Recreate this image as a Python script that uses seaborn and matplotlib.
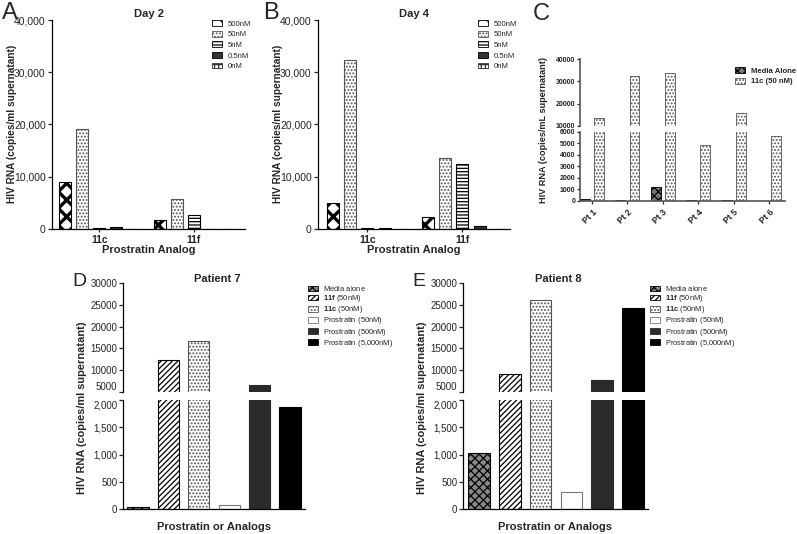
import matplotlib
matplotlib.use("Agg")
import matplotlib.pyplot as plt
import matplotlib.patches as mpatches
from matplotlib.ticker import FuncFormatter
import seaborn as sns
import pandas as pd

# panels A / B: viral RNA by analog and dose
analogs = ["11c", "11f"]
doses = ["500nM", "50nM", "5nM", "0.5nM", "0nM"]
day2_11c = [9000, 19200, 100, 300, 0]
day2_11f = [1800, 5800, 2600, 60, 60]
day4_11c = [5000, 32300, 250, 180, 0]
day4_11f = [2300, 13500, 12400, 500, 80]

# panel C: patients 1-6
patients = ["Pt 1", "Pt 2", "Pt 3", "Pt 4", "Pt 5", "Pt 6"]
c_groups = ["Media Alone", "11c (50 nM)"]
media_alone = [150, 120, 1180, 100, 60, 30]
c11c_50 = [13800, 32600, 33600, 4870, 16000, 5650]

# panels D / E: patients 7 and 8
treatments = ["Media alone", "11f (50nM)", "11c (50nM)",
              "Prostratin (50nM)", "Prostratin (500nM)", "Prostratin (5,000nM)"]
# all mathtext so every legend row has the same height
treat_labels = [r"$\mathregular{Media\ alone}$",
                r"$\mathbf{11f}\mathregular{\ (50nM)}$",
                r"$\mathbf{11c}\mathregular{\ (50nM)}$",
                r"$\mathregular{Prostratin\ (50nM)}$",
                r"$\mathregular{Prostratin\ (500nM)}$",
                r"$\mathregular{Prostratin\ (5{,}000nM)}$"]
patient7 = [45, 12270, 16700, 70, 6700, 1870]
patient8 = [1030, 9060, 26200, 306, 7840, 24270]

dose_style = {
    "500nM": dict(facecolor="white", edgecolor="black", hatch="xx"),
    "50nM": dict(facecolor="white", edgecolor="#555555", hatch="....."),
    "5nM": dict(facecolor="white", edgecolor="black", hatch="-----"),
    "0.5nM": dict(facecolor="#333333", edgecolor="black", hatch=""),
    "0nM": dict(facecolor="white", edgecolor="#333333", hatch="++++"),
}
c_style = {
    "Media Alone": dict(facecolor="#777777", edgecolor="black", hatch="xxxx"),
    "11c (50 nM)": dict(facecolor="white", edgecolor="#555555", hatch="....."),
}
treat_style = {
    "Media alone": dict(facecolor="#888888", edgecolor="black", hatch="xxxx"),
    "11f (50nM)": dict(facecolor="white", edgecolor="black", hatch="//////"),
    "11c (50nM)": dict(facecolor="white", edgecolor="#555555", hatch="....."),
    "Prostratin (50nM)": dict(facecolor="white", edgecolor="#777777", hatch=""),
    "Prostratin (500nM)": dict(facecolor="#2b2b2b", edgecolor="#2b2b2b", hatch=""),
    "Prostratin (5,000nM)": dict(facecolor="black", edgecolor="black", hatch=""),
}

sns.set_theme(style="ticks")
plt.rcParams["font.family"] = ["Liberation Sans", "DejaVu Sans"]
plt.rcParams["mathtext.fontset"] = "custom"
plt.rcParams["mathtext.rm"] = "Liberation Sans"
plt.rcParams["mathtext.bf"] = "Liberation Sans:bold"
plt.rcParams["hatch.linewidth"] = 0.9

W, H = 797, 534
fig = plt.figure(figsize=(W / 100, H / 100), dpi=100)


def box(l, t, r, b):
    return [l / W, 1 - b / H, (r - l) / W, (b - t) / H]


def ftext(x, y, s, **kw):
    fig.text(x / W, 1 - y / H, s, **kw)


def thick_hatch(p, style):
    # the cross-hatched dose looks much bolder in the original
    if style.get("hatch") == "xx" and hasattr(p, "set_hatch_linewidth"):
        p.set_hatch_linewidth(2.4)


def style_bars(ax, order, styles, lw=0.8):
    for name, cont in zip(order, ax.containers):
        for p in cont.patches:
            p.set(linewidth=lw, **styles[name])
            thick_hatch(p, styles[name])


def make_legend(ax, order, styles, labels, x, y, size, spacing):
    handles = []
    for n, lab in zip(order, labels):
        h = mpatches.Patch(label=lab, linewidth=0.6, **styles[n])
        thick_hatch(h, styles[n])
        handles.append(h)
    ax.legend(handles=handles, loc="upper left", bbox_to_anchor=(x / W, 1 - y / H),
              bbox_transform=fig.transFigure, frameon=False, fontsize=size,
              handlelength=1.3, handleheight=0.8, handletextpad=0.7,
              labelspacing=spacing, borderpad=0, borderaxespad=0)


def clean(ax, lw=0.9, color="black"):
    sns.despine(ax=ax)
    for s in ("left", "bottom"):
        ax.spines[s].set_linewidth(lw)
        ax.spines[s].set_color(color)
    ax.set_xlabel("")
    ax.set_ylabel("")


comma = FuncFormatter(lambda v, p: f"{int(v):,}")

# ---------- A and B ----------
for tag, vals11c, vals11f, left, right, title, xlim, lx in [
    ("A", day2_11c, day2_11f, 52, 245, "Day 2", (-0.5, 1.54), 212),
    ("B", day4_11c, day4_11f, 318, 510, "Day 4", (-0.52, 1.5), 478),
]:
    df = pd.DataFrame({
        "analog": [a for a in analogs for _ in doses],
        "dose": doses * 2,
        "rna": vals11c + vals11f,
    })
    ax = fig.add_axes(box(left, 20, right, 229))
    sns.barplot(data=df, x="analog", y="rna", hue="dose", hue_order=doses,
                order=analogs, palette=["white"] * 5, width=0.9, gap=0.3,
                errorbar=None, legend=False, ax=ax)
    style_bars(ax, doses, dose_style)
    clean(ax)
    ax.set_ylim(0, 40000)
    ax.set_yticks([0, 10000, 20000, 30000, 40000])
    ax.yaxis.set_major_formatter(comma)
    ax.set_xlim(*xlim)
    ax.tick_params(axis="y", labelsize=7.5, length=3, width=0.9, pad=1.5)
    ax.tick_params(axis="x", labelsize=7.5, length=2, width=0.9, pad=2)
    for t in ax.get_xticklabels():
        t.set_fontweight("bold")
    make_legend(ax, doses, dose_style, doses, lx, 20, 5.6, 0.38)
    cx = (left + right) / 2
    ftext(cx, 14, title, ha="center", va="center", fontsize=8, fontweight="bold")
    ftext(cx, 250, "Prostratin Analog", ha="center", va="center", fontsize=8, fontweight="bold")
    ftext(left - 40, 124, "HIV RNA (copies/ml supernatant)", rotation=90,
          ha="center", va="center", fontsize=7.3, fontweight="bold")
    ftext(left - 50 if tag == "A" else left - 55, 13, tag, ha="left", va="center", fontsize=17)

# ---------- C ----------
dfc = pd.DataFrame({
    "patient": patients * 2,
    "group": [c_groups[0]] * 6 + [c_groups[1]] * 6,
    "rna": media_alone + c11c_50,
})
axc_top = fig.add_axes(box(580, 59, 785, 126))
axc_bot = fig.add_axes(box(580, 132, 785, 201))
for ax, lim, ticks in [(axc_top, (10000, 40000), [10000, 20000, 30000, 40000]),
                       (axc_bot, (0, 6000), list(range(0, 7000, 1000)))]:
    sns.barplot(data=dfc, x="patient", y="rna", hue="group", hue_order=c_groups,
                order=patients, palette=["white", "white"], width=0.8, gap=0.3,
                errorbar=None, legend=False, ax=ax)
    style_bars(ax, c_groups, c_style, lw=0.6)
    clean(ax, lw=1.2, color="#555555")
    ax.set_ylim(*lim)
    ax.set_yticks(ticks)
    ax.set_xlim(-0.34, 5.45)
    ax.tick_params(axis="y", labelsize=5, length=2.5, width=0.9, pad=1, colors="#222222")
    for t in ax.get_yticklabels():
        t.set_fontweight("bold")
axc_top.spines["bottom"].set_visible(False)
axc_top.tick_params(axis="x", bottom=False, labelbottom=False)
axc_bot.tick_params(axis="x", labelsize=6.3, length=2.5, width=0.9, pad=2.5)
for t in axc_bot.get_xticklabels():
    t.set_fontweight("bold")
    t.set_rotation(45)
    t.set_ha("right")
    t.set_va("top")
    t.set_rotation_mode("anchor")
make_legend(axc_top, c_groups, c_style, c_groups, 735, 67, 5.6, 0.4)
for t in axc_top.get_legend().get_texts():
    t.set_fontweight("bold")
ftext(544, 130, "HIV RNA (copies/mL supernatant)", rotation=90,
      ha="center", va="center", fontsize=6.6, fontweight="bold")
ftext(533, 14, "C", ha="left", va="center", fontsize=17)

# ---------- D and E ----------
for tag, vals, left, right, title, xlim, lx in [
    ("D", patient7, 123, 305, "Patient 7", (-0.49, 5.49), 308),
    ("E", patient8, 463, 648, "Patient 8", (-0.52, 5.49), 650),
]:
    df = pd.DataFrame({"treatment": treatments, "rna": vals})
    top = fig.add_axes(box(left, 283, right, 392))
    bot = fig.add_axes(box(left, 400, right, 509))
    for ax in (top, bot):
        sns.barplot(data=df, x="treatment", y="rna", hue="treatment",
                    hue_order=treatments, order=treatments,
                    palette=["white"] * 6, width=0.7, errorbar=None,
                    legend=False, ax=ax)
        style_bars(ax, treatments, treat_style)
        clean(ax)
        ax.set_xlim(*xlim)
        ax.tick_params(axis="y", labelsize=7, length=3, width=0.9, pad=1)
        ax.tick_params(axis="x", bottom=False, labelbottom=False)
    top.set_ylim(5000, 30000)
    top.set_yticks(range(5000, 30001, 5000))
    top.spines["bottom"].set_visible(False)
    bot.set_ylim(0, 2000)
    bot.set_yticks([0, 500, 1000, 1500, 2000])
    bot.yaxis.set_major_formatter(comma)
    # keep the two labels at the axis break from running into each other
    top.get_yticklabels()[0].set_va("bottom")
    bot.get_yticklabels()[-1].set_va("top")
    make_legend(top, treatments, treat_style, treat_labels, lx, 284, 5.4, 0.02)
    cx = (left + right) / 2
    ftext(cx + 3, 279, title, ha="center", va="center", fontsize=8, fontweight="bold")
    ftext(cx, 527, "Prostratin or Analogs", ha="center", va="center", fontsize=8, fontweight="bold")
    ftext(left - 41, 408, "HIV RNA (copies/ml supernatant)", rotation=90,
          ha="center", va="center", fontsize=7.9, fontweight="bold")
    ftext(left - 51, 281, tag, ha="left", va="center", fontsize=14)

fig.savefig("out.png", dpi=100)
